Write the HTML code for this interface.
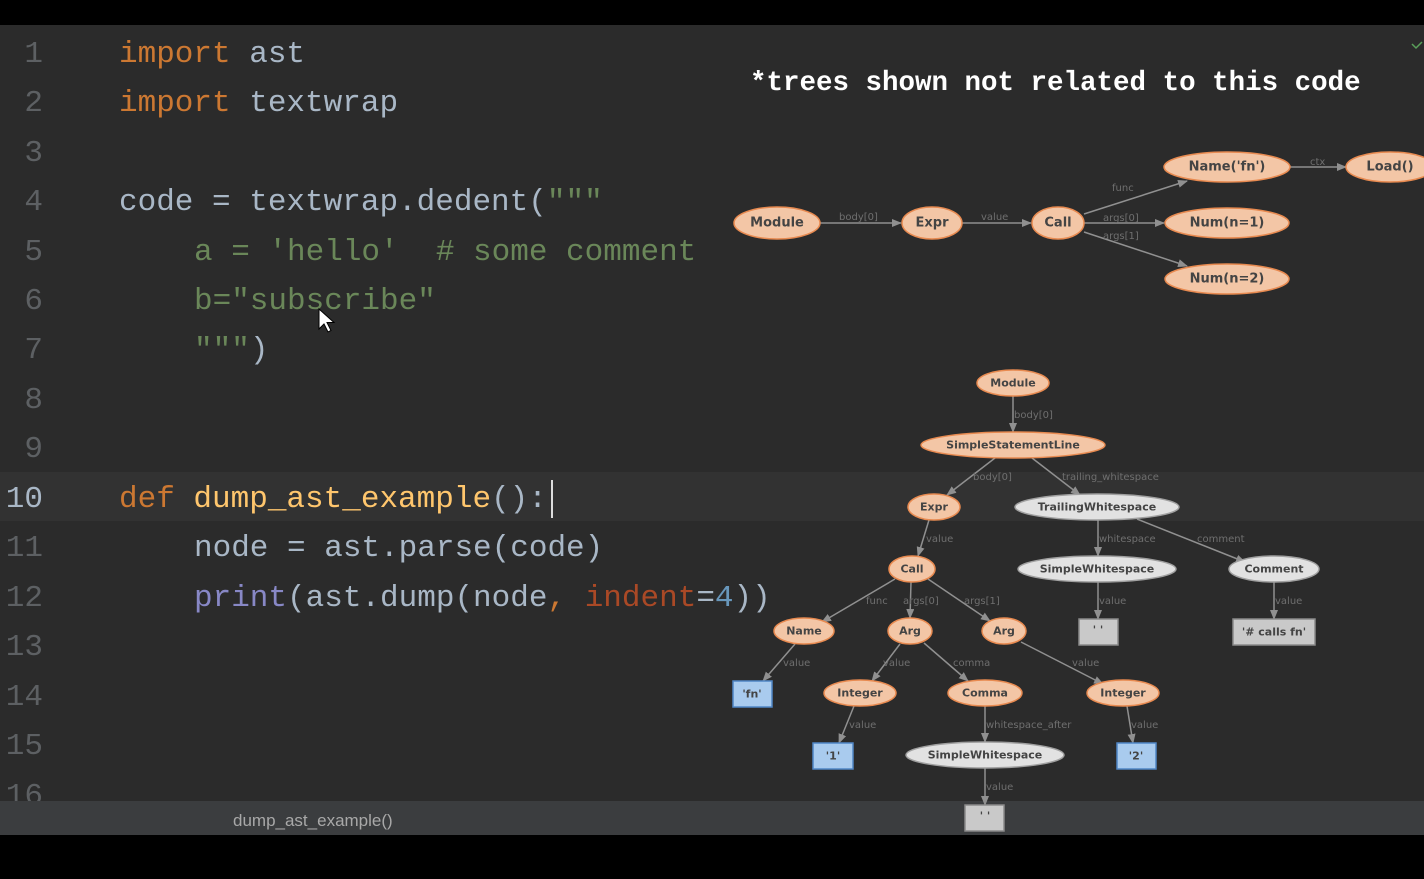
<!DOCTYPE html>
<html><head><meta charset="utf-8"><style>
html,body{margin:0;padding:0;background:#000;}
svg{display:block}
.c{font-family:"Liberation Mono",monospace;font-size:31px;}
.ln{font-family:"Liberation Mono",monospace;font-size:31px;fill:#5d6063;text-anchor:end}
.n{font-family:"DejaVu Sans","Liberation Sans",sans-serif;font-weight:bold;fill:#444;text-anchor:middle;dominant-baseline:central}
.e{font-family:"DejaVu Sans","Liberation Sans",sans-serif;font-size:10px;fill:#6f6f6f}
.o{fill:#f3c6a6;stroke:#e88a50;stroke-width:1.5}
.g{fill:#e2e2e2;stroke:#a0a0a0;stroke-width:1.5}
.b{fill:#a9cbee;stroke:#4f86c6;stroke-width:1.5}
.s{fill:#c9c9c9;stroke:#8a8a8a;stroke-width:1.5}
.l{stroke:#909090;stroke-width:1.5;fill:none;marker-end:url(#a)}
</style></head><body>
<svg width="1424" height="879" xmlns="http://www.w3.org/2000/svg">
<defs><marker id="a" markerWidth="10" markerHeight="8" refX="9" refY="4" orient="auto" markerUnits="userSpaceOnUse"><path d="M0,0 L10,4 L0,8 z" fill="#909090"/></marker></defs>
<rect x="0" y="0" width="1424" height="25" fill="#000"/>
<rect x="0" y="25" width="1424" height="776" fill="#2b2b2b"/>
<rect x="0" y="472" width="1424" height="49" fill="#323232"/>

<g class="ln">
<text x="43" y="62">1</text><text x="43" y="111">2</text><text x="43" y="161">3</text><text x="43" y="210">4</text><text x="43" y="260">5</text><text x="43" y="309">6</text><text x="43" y="358">7</text><text x="43" y="408">8</text><text x="43" y="457">9</text><text x="43" y="507" fill="#a9b7c6">10</text><text x="43" y="556">11</text><text x="43" y="606">12</text><text x="43" y="655">13</text><text x="43" y="705">14</text><text x="43" y="754">15</text><text x="43" y="804">16</text>
</g>
<rect x="0" y="801" width="1424" height="34" fill="#3b3d3f"/>
<rect x="0" y="835" width="1424" height="44" fill="#000"/>
<text x="233" y="826" font-family="Liberation Sans,sans-serif" font-size="17" fill="#a8a8a8">dump_ast_example()</text>
<g class="c" fill="#a9b7c6">
<text x="119" y="62" xml:space="preserve"><tspan fill="#cc7832">import</tspan> ast</text>
<text x="119" y="111" xml:space="preserve"><tspan fill="#cc7832">import</tspan> textwrap</text>
<text x="119" y="210" xml:space="preserve">code = textwrap.dedent(<tspan fill="#6a8759">"""</tspan></text>
<text x="194" y="260" fill="#6a8759" xml:space="preserve">a = 'hello'  # some comment</text>
<text x="194" y="309" fill="#6a8759">b="subscribe"</text>
<text x="194" y="358" xml:space="preserve"><tspan fill="#6a8759">"""</tspan>)</text>
<text x="119" y="507" xml:space="preserve"><tspan fill="#cc7832">def</tspan> <tspan fill="#ffc66d">dump_ast_example</tspan>():</text>
<text x="194" y="556">node = ast.parse(code)</text>
<text x="194" y="606" xml:space="preserve"><tspan fill="#8888c6">print</tspan>(ast.dump(node<tspan fill="#cc7832">,</tspan> <tspan fill="#aa4926">indent</tspan>=<tspan fill="#6897bb">4</tspan>))</text>
</g>
<rect x="551" y="480" width="2" height="38" fill="#ddd"/>
<path d="M319,309 l0,20 l5,-5 l4,8 l3,-1.5 l-4,-8 l7,0 z" fill="#fff" stroke="#000" stroke-width="1"/>

<text x="750" y="90" font-family="Liberation Mono,monospace" font-weight="bold" font-size="27.5" fill="#fff">*trees shown not related to this code</text>
<path d="M1412,44 l4,4 l6,-6" stroke="#5aa05a" stroke-width="1.5" fill="none"/>

<g>
<line class="l" x1="820" y1="223" x2="901" y2="223"/><text class="e" x="839" y="220">body[0]</text>
<line class="l" x1="962" y1="223" x2="1031" y2="223"/><text class="e" x="981" y="220">value</text>
<line class="l" x1="1084" y1="214" x2="1187" y2="181"/><text class="e" x="1112" y="191">func</text>
<line class="l" x1="1084" y1="223" x2="1164" y2="223"/><text class="e" x="1103" y="221">args[0]</text>
<line class="l" x1="1084" y1="232" x2="1187" y2="266"/><text class="e" x="1103" y="239">args[1]</text>
<line class="l" x1="1290" y1="167" x2="1346" y2="167"/><text class="e" x="1310" y="165">ctx</text>
</g>
<g>
<ellipse class="o" cx="777" cy="223" rx="43" ry="16"/><text class="n" x="777" y="223" font-size="13">Module</text>
<ellipse class="o" cx="932" cy="223" rx="30" ry="16"/><text class="n" x="932" y="223" font-size="13">Expr</text>
<ellipse class="o" cx="1058" cy="223" rx="26" ry="16"/><text class="n" x="1058" y="223" font-size="13">Call</text>
<ellipse class="o" cx="1227" cy="167" rx="63" ry="15"/><text class="n" x="1227" y="167" font-size="13">Name('fn')</text>
<ellipse class="o" cx="1390" cy="167" rx="44" ry="15"/><text class="n" x="1390" y="167" font-size="13">Load()</text>
<ellipse class="o" cx="1227" cy="223" rx="62" ry="15"/><text class="n" x="1227" y="223" font-size="13">Num(n=1)</text>
<ellipse class="o" cx="1227" cy="279" rx="62" ry="15"/><text class="n" x="1227" y="279" font-size="13">Num(n=2)</text>
</g>

<g>
<line class="l" x1="1013" y1="396" x2="1013" y2="432"/><text class="e" x="1014" y="418">body[0]</text>
<line class="l" x1="995" y1="458" x2="947" y2="495"/><text class="e" x="973" y="480">body[0]</text>
<line class="l" x1="1032" y1="458" x2="1080" y2="495"/><text class="e" x="1062" y="480">trailing_whitespace</text>
<line class="l" x1="929" y1="520" x2="918" y2="556"/><text class="e" x="926" y="542">value</text>
<line class="l" x1="1098" y1="520" x2="1098" y2="556"/><text class="e" x="1099" y="542">whitespace</text>
<line class="l" x1="1137" y1="519" x2="1245" y2="562"/><text class="e" x="1197" y="542">comment</text>
<line class="l" x1="1098" y1="582" x2="1098" y2="619"/><text class="e" x="1099" y="604">value</text>
<line class="l" x1="1274" y1="582" x2="1274" y2="619"/><text class="e" x="1275" y="604">value</text>
<line class="l" x1="895" y1="579" x2="822" y2="622"/><text class="e" x="866" y="604">func</text>
<line class="l" x1="911" y1="582" x2="910" y2="618"/><text class="e" x="903" y="604">args[0]</text>
<line class="l" x1="928" y1="579" x2="990" y2="621"/><text class="e" x="964" y="604">args[1]</text>
<line class="l" x1="795" y1="644" x2="763" y2="681"/><text class="e" x="783" y="666">value</text>
<line class="l" x1="900" y1="644" x2="872" y2="681"/><text class="e" x="883" y="666">value</text>
<line class="l" x1="924" y1="643" x2="968" y2="681"/><text class="e" x="953" y="666">comma</text>
<line class="l" x1="1021" y1="642" x2="1103" y2="684"/><text class="e" x="1072" y="666">value</text>
<line class="l" x1="854" y1="706" x2="839" y2="743"/><text class="e" x="849" y="728">value</text>
<line class="l" x1="985" y1="706" x2="985" y2="742"/><text class="e" x="986" y="728">whitespace_after</text>
<line class="l" x1="1127" y1="706" x2="1133" y2="743"/><text class="e" x="1131" y="728">value</text>
<line class="l" x1="985" y1="768" x2="985" y2="805"/><text class="e" x="986" y="790">value</text>
</g>
<g>
<ellipse class="o" cx="1013" cy="383" rx="36" ry="13"/><text class="n" x="1013" y="383" font-size="11">Module</text>
<ellipse class="o" cx="1013" cy="445" rx="92" ry="13"/><text class="n" x="1013" y="445" font-size="11">SimpleStatementLine</text>
<ellipse class="o" cx="934" cy="507" rx="26" ry="13"/><text class="n" x="934" y="507" font-size="11">Expr</text>
<ellipse class="g" cx="1097" cy="507" rx="82" ry="13"/><text class="n" x="1097" y="507" font-size="11">TrailingWhitespace</text>
<ellipse class="o" cx="912" cy="569" rx="23" ry="13"/><text class="n" x="912" y="569" font-size="11">Call</text>
<ellipse class="g" cx="1097" cy="569" rx="79" ry="13"/><text class="n" x="1097" y="569" font-size="11">SimpleWhitespace</text>
<ellipse class="g" cx="1274" cy="569" rx="45" ry="13"/><text class="n" x="1274" y="569" font-size="11">Comment</text>
<ellipse class="o" cx="804" cy="631" rx="30" ry="13"/><text class="n" x="804" y="631" font-size="11">Name</text>
<ellipse class="o" cx="910" cy="631" rx="22" ry="13"/><text class="n" x="910" y="631" font-size="11">Arg</text>
<ellipse class="o" cx="1004" cy="631" rx="22" ry="13"/><text class="n" x="1004" y="631" font-size="11">Arg</text>
<rect class="s" x="1079" y="619" width="39" height="26"/><text class="n" x="1098" y="630" font-size="11">' '</text>
<rect class="s" x="1233" y="619" width="82" height="26"/><text class="n" x="1274" y="632" font-size="11">'# calls fn'</text>
<rect class="b" x="733" y="681" width="39" height="26"/><text class="n" x="752" y="694" font-size="11">'fn'</text>
<ellipse class="o" cx="860" cy="693" rx="36" ry="13"/><text class="n" x="860" y="693" font-size="11">Integer</text>
<ellipse class="o" cx="985" cy="693" rx="37" ry="13"/><text class="n" x="985" y="693" font-size="11">Comma</text>
<ellipse class="o" cx="1123" cy="693" rx="36" ry="13"/><text class="n" x="1123" y="693" font-size="11">Integer</text>
<rect class="b" x="813" y="743" width="40" height="26"/><text class="n" x="833" y="756" font-size="11">'1'</text>
<ellipse class="g" cx="985" cy="755" rx="79" ry="13"/><text class="n" x="985" y="755" font-size="11">SimpleWhitespace</text>
<rect class="b" x="1117" y="743" width="39" height="26"/><text class="n" x="1136" y="756" font-size="11">'2'</text>
<rect class="s" x="965" y="805" width="39" height="26"/><text class="n" x="985" y="816" font-size="11">' '</text>
</g>
</svg>
</body></html>
